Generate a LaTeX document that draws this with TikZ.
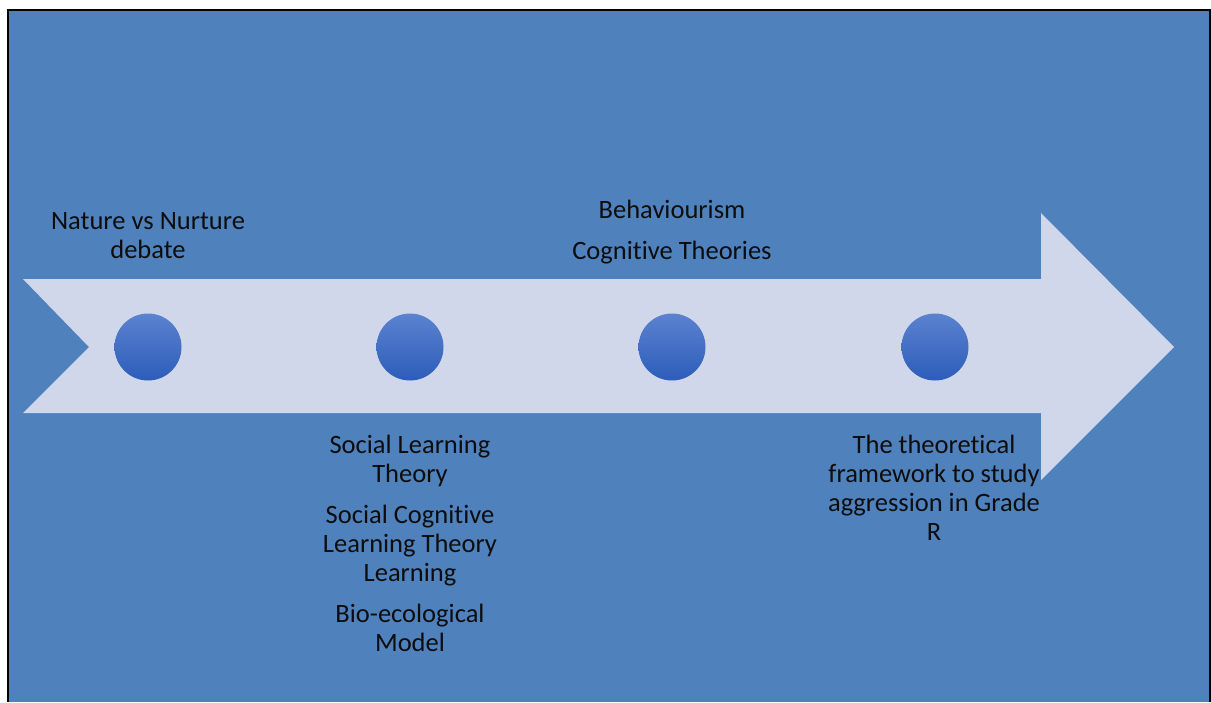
\documentclass[tikz,border=0pt]{standalone}
\usepackage{fontspec}
\setmainfont{Carlito}[Ligatures={NoCommon}]
\definecolor{bgblue}{HTML}{4F81BD}
\definecolor{arrowfill}{HTML}{D0D7EB}
\definecolor{dottop}{HTML}{5C82D0}
\definecolor{dotbot}{HTML}{2C5DB9}
\definecolor{txt}{HTML}{0D0D0D}
\begin{document}
\begin{tikzpicture}[x=1pt,y=-1pt,
  dot/.style={circle,minimum size=67pt,inner sep=0pt,top color=dottop,bottom color=dotbot,draw=none},
  label/.style={align=center,inner sep=0pt,text=txt,anchor=base,font=\fontsize{26.5}{29}\selectfont},
  frameline/.style={line width=2.5pt,black}]
\useasboundingbox (0,0) rectangle (1211,702);
% background
\fill[bgblue] (8,10) rectangle (1210,702);
\draw[frameline] (8,702) -- (8,10) -- (1210,10) -- (1210,702);
% arrow
\fill[arrowfill] (23,279) -- (1041,279) -- (1041,213) -- (1174,347) -- (1041,480) -- (1041,413) -- (23,413) -- (89,347) -- cycle;
% dots
\node[dot] (c1) at (148,347) {};
\node[dot] (c2) at (410,347) {};
\node[dot] (c3) at (672,347) {};
\node[dot] (c4) at (935,347) {};
% labels (anchor base = baseline of last line)
\node[label] (nature) at (148,258.5) {Nature vs Nurture\\debate};
\node[label] (behav) at (672,259.5) {Behaviourism\\[12pt]Cognitive Theories};
\node[label] (social) at (410,651) {Social Learning\\Theory\\[12pt]Social Cognitive\\Learning Theory\\Learning\\[12pt]Bio-ecological\\Model};
\node[label] (frame) at (934,540.5) {The theoretical\\framework to study\\aggression in Grade\\R};
\end{tikzpicture}
\end{document}
